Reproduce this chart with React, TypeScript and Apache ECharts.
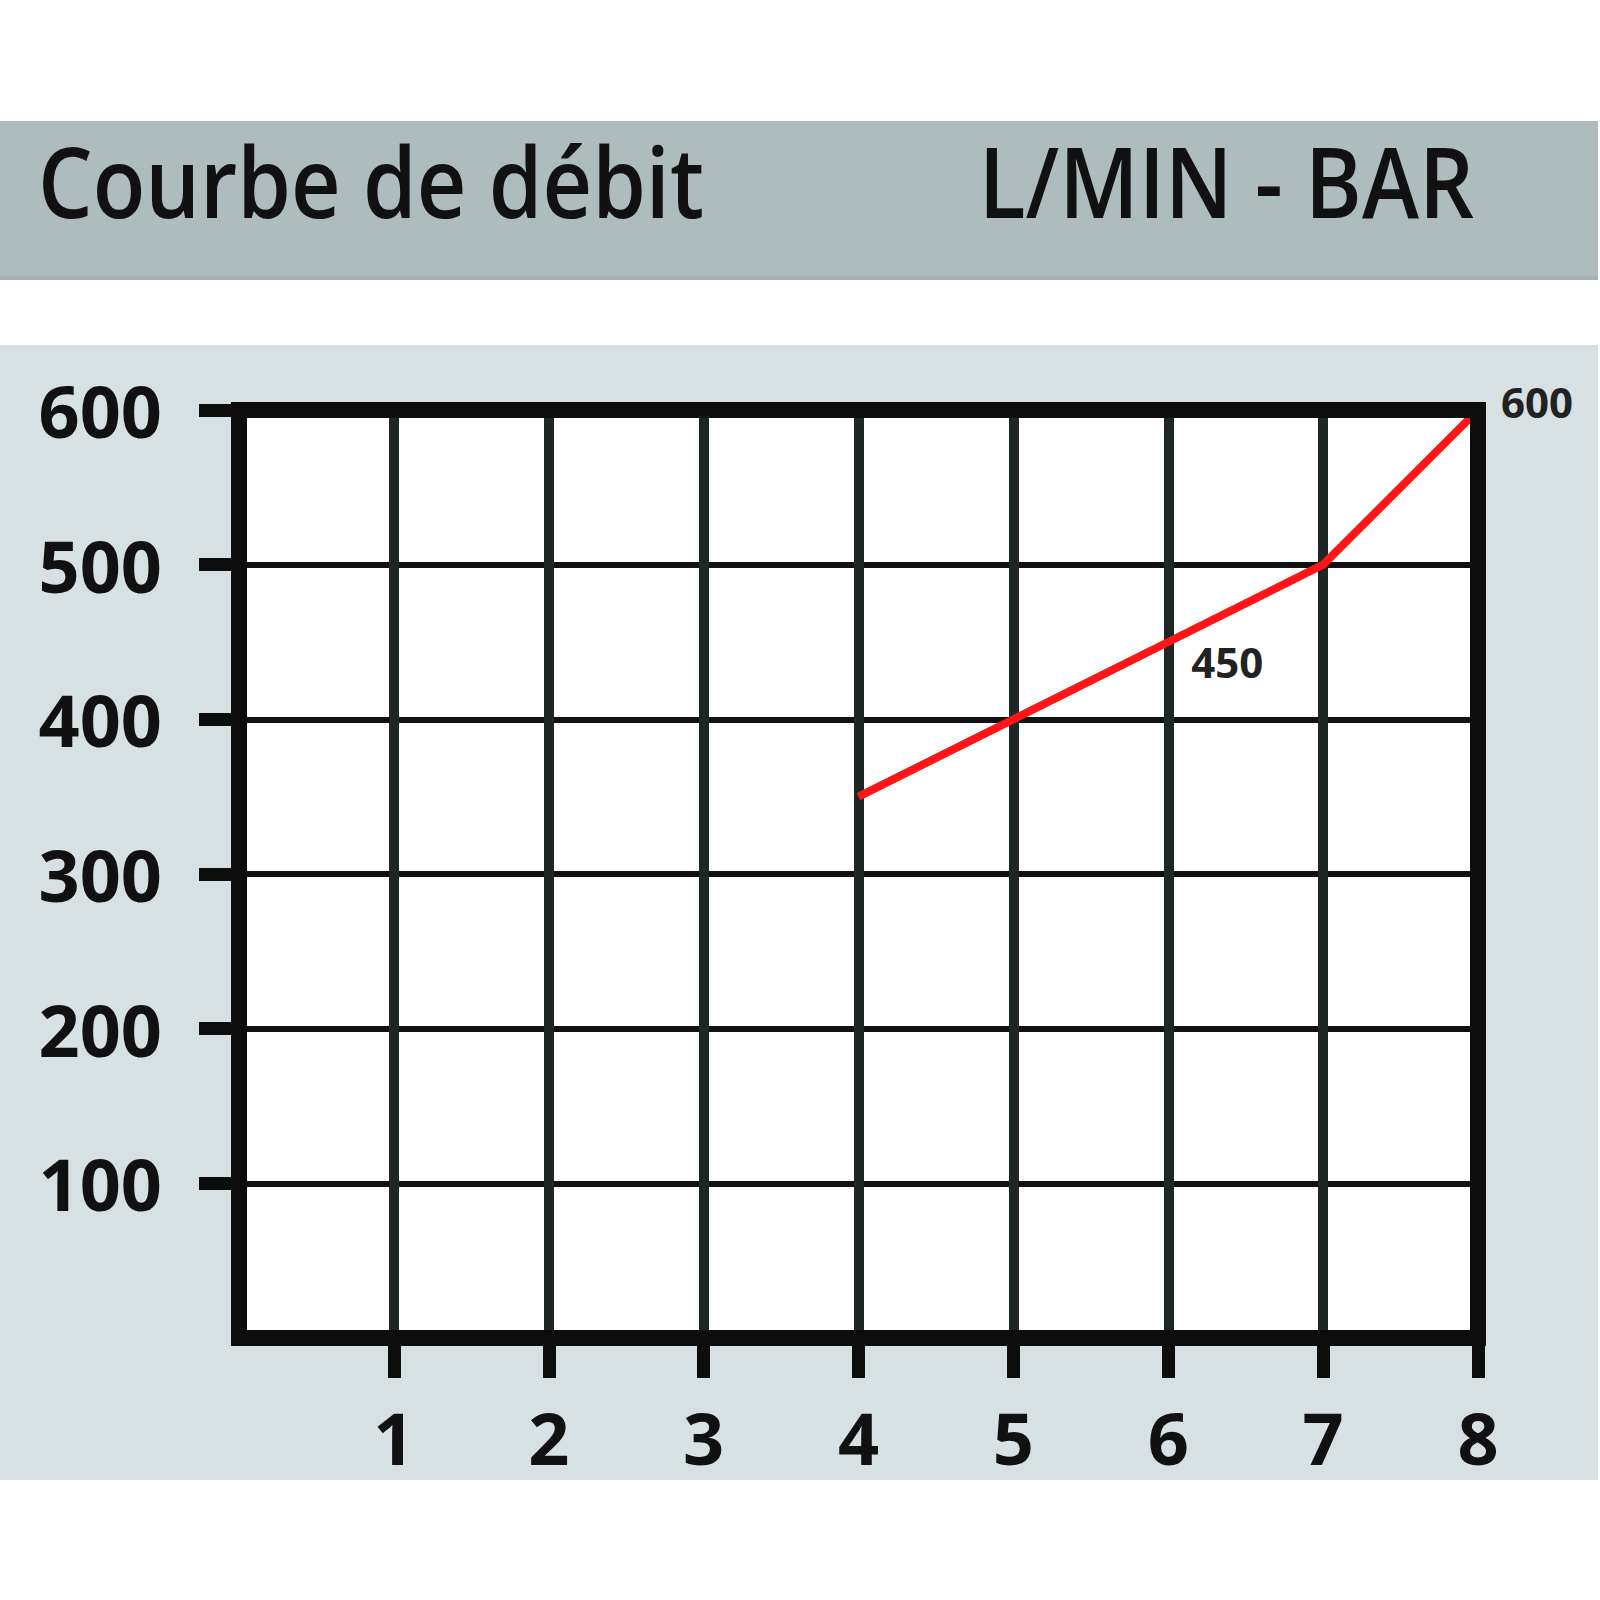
import React, { useEffect, useRef } from "react";
import * as echarts from "echarts";

// Pressure (bar) on the x axis, flow (L/min) on the y axis
const pressureBar = [4, 5, 6, 7, 8];
const flowLmin = [350, 400, 450, 500, 600];
const xTickValues = [1, 2, 3, 4, 5, 6, 7, 8];
const yTickValues = [100, 200, 300, 400, 500, 600];
const labeledPointIndices = [2, 4];
const titleLeft = "Courbe de débit";
const titleRight = "L/MIN - BAR";

export default function App() {
  const ref = useRef<HTMLDivElement>(null);

  useEffect(() => {
    if (!ref.current) return;
    const chart = echarts.init(ref.current, null, { renderer: "svg" });
    const FONT = "'Open Sans', 'Noto Sans', sans-serif";
    const INK = "#0d0d0d";
    const RED = "#ff1418";
    const labelOffsets: Record<number, number[]> = { 2: [59, 19], 4: [59, -9] };

    const frameLine = {
      show: true,
      onZero: false,
      lineStyle: { color: INK, width: 16, cap: "square" },
    };
    const hiddenLine = { show: false, onZero: false };

    const xBase = { type: "value", min: 0, max: 8, interval: 1 };
    const yBase = { type: "value", min: 0, max: 600, interval: 100 };

    const seriesData = pressureBar.map((x, i) => {
      const item: any = { value: [x, flowLmin[i]] };
      if (labeledPointIndices.includes(i)) {
        item.label = {
          show: true,
          position: "inside",
          offset: labelOffsets[i],
          formatter: String(flowLmin[i]),
          fontSize: 42,
          fontWeight: "bold",
          fontFamily: FONT,
          color: "#222",
        };
      }
      return item;
    });

    chart.setOption({
      animation: false,
      backgroundColor: "#ffffff",
      grid: {
        left: 239,
        right: 122,
        top: 410,
        bottom: 262,
        show: true,
        backgroundColor: "#ffffff",
        borderWidth: 0,
      },
      graphic: [
        {
          type: "rect",
          z: -10,
          shape: { x: 0, y: 121, width: 1598, height: 159 },
          style: { fill: "#afbcbe" },
        },
        {
          type: "rect",
          z: -9,
          shape: { x: 0, y: 276, width: 1598, height: 4 },
          style: { fill: "#a3b1b3" },
        },
        {
          type: "rect",
          z: -10,
          shape: { x: 0, y: 345, width: 1598, height: 1135 },
          style: { fill: "#d7e0e2" },
        },
        {
          type: "text",
          x: 38,
          y: 180,
          scaleX: 0.88,
          style: {
            text: titleLeft,
            fontSize: 98,
            fontWeight: 600,
            fontFamily: FONT,
            fill: "#111",
            textAlign: "left",
            align: "left",
            textVerticalAlign: "middle",
            verticalAlign: "middle",
          },
        },
        {
          type: "text",
          x: 1474,
          y: 180,
          scaleX: 0.88,
          style: {
            text: titleRight,
            fontSize: 98,
            fontWeight: 600,
            fontFamily: FONT,
            fill: "#111",
            textAlign: "right",
            align: "right",
            textVerticalAlign: "middle",
            verticalAlign: "middle",
          },
        },
      ],
      xAxis: [
        {
          ...xBase,
          position: "bottom",
          z: 5,
          axisLine: frameLine,
          axisTick: {
            show: true,
            length: 40,
            customValues: xTickValues,
            lineStyle: { color: INK, width: 13 },
          },
          axisLabel: {
            show: true,
            customValues: xTickValues,
            margin: 99,
            verticalAlign: "middle",
            fontSize: 72,
            fontWeight: "bold",
            fontFamily: FONT,
            color: "#111",
          },
          splitLine: { show: false },
        },
        {
          ...xBase,
          position: "top",
          z: 5,
          axisLine: frameLine,
          axisTick: { show: false },
          axisLabel: { show: false },
          splitLine: { show: false },
        },
        {
          ...xBase,
          position: "bottom",
          z: 0,
          axisLine: hiddenLine,
          axisTick: { show: false },
          axisLabel: { show: false },
          splitLine: { show: true, lineStyle: { color: "#1e2626", width: 10 } },
        },
      ],
      yAxis: [
        {
          ...yBase,
          position: "left",
          z: 5,
          axisLine: frameLine,
          axisTick: {
            show: true,
            length: 40,
            customValues: yTickValues,
            lineStyle: { color: INK, width: 13 },
          },
          axisLabel: {
            show: true,
            customValues: yTickValues,
            margin: 77,
            fontSize: 72,
            fontWeight: "bold",
            fontFamily: FONT,
            color: "#111",
          },
          splitLine: { show: false },
        },
        {
          ...yBase,
          position: "right",
          z: 5,
          axisLine: frameLine,
          axisTick: { show: false },
          axisLabel: { show: false },
          splitLine: { show: false },
        },
        {
          ...yBase,
          position: "left",
          z: 0,
          axisLine: hiddenLine,
          axisTick: { show: false },
          axisLabel: { show: false },
          splitLine: { show: true, lineStyle: { color: "#111", width: 6 } },
        },
      ],
      series: [
        {
          type: "line",
          xAxisIndex: 0,
          yAxisIndex: 0,
          z: 3,
          clip: false,
          data: seriesData,
          symbol: "circle",
          symbolSize: 1,
          showSymbol: true,
          itemStyle: { color: RED },
          lineStyle: { color: RED, width: 8 },
          label: { show: false },
          emphasis: { disabled: true },
        },
      ],
    });

    return () => chart.dispose();
  }, []);

  return (
    <div
      ref={ref}
      style={{
        position: "fixed",
        left: 0,
        top: 0,
        width: 1600,
        height: 1600,
        background: "#ffffff",
      }}
    />
  );
}
